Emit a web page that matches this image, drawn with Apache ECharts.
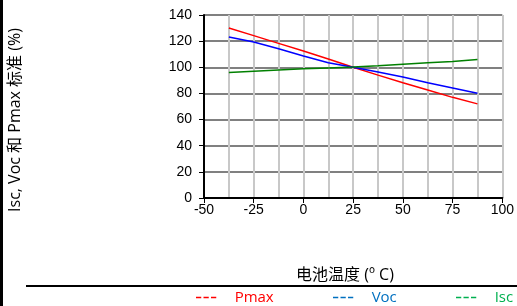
<!DOCTYPE html>
<html><head><meta charset="utf-8">
<script src="https://cdn.jsdelivr.net/npm/echarts@6/dist/echarts.min.js"></script>
<style>html,body{margin:0;padding:0;background:#fff}#c{width:517px;height:306px}</style>
</head><body><div id="c"></div>
<script>
var temps = [-37.5, -25, -12.5, 0, 12.5, 25, 37.5, 50, 62.5, 75, 87.5];
var pmax = [130, 124.2, 118.3, 112.5, 106.4, 100, 94, 88.2, 82.6, 77, 72];
var voc = [123.2, 119.3, 114.2, 108.6, 103.5, 100, 96.4, 92.6, 88.2, 84.2, 80.1];
var isc = [96.1, 97, 97.9, 98.8, 99.5, 100.2, 101.2, 102.3, 103.4, 104.5, 105.9];
var seriesNames = ['Pmax', 'Voc', 'Isc'];
var xTitle = '电池温度 (º C)';
var yTitle = 'Isc, Voc 和 Pmax 标准 (%)';

function pairs(ys){ return temps.map(function(t,i){ return [t, ys[i]]; }); }
var chart = echarts.init(document.getElementById('c'), null, {renderer:'canvas'});
var dashIcon = 'path://M0,0h7v2h-7z M10,0h7v2h-7z M20,0h7v2h-7z';
var lineColors = ['#ff0000', '#0000ff', '#008000'];
var legendColors = ['#ff0000', '#0070c0', '#00b050'];
var legendLeft = [196, 333, 456];
var mixFont = '"Open Sans", "Noto Sans CJK SC", sans-serif';
chart.setOption({
  animation: false,
  grid: {left: 204, top: 15, width: 299, height: 183},
  xAxis: {
    type: 'value', min: -50, max: 100, interval: 25,
    axisLine: {show: true, onZero: false, lineStyle: {color: '#000', width: 2}},
    axisTick: {show: true, length: 5, lineStyle: {color: '#000'}},
    axisLabel: {color: '#000', fontFamily: 'Liberation Sans', fontSize: 14, margin: 5},
    splitLine: {show: true, lineStyle: {color: '#c8c8c8', width: 2}},
    minorTick: {show: false, splitNumber: 2},
    minorSplitLine: {show: true, lineStyle: {color: '#c8c8c8', width: 2}}
  },
  yAxis: {
    type: 'value', min: 0, max: 140, interval: 20,
    axisLine: {show: true, onZero: false, lineStyle: {color: '#000', width: 2}},
    axisTick: {show: true, length: 5, lineStyle: {color: '#000'}},
    axisLabel: {color: '#000', fontFamily: 'Liberation Sans', fontSize: 14, margin: 12},
    splitLine: {show: true, lineStyle: {color: '#808080', width: 2}}
  },
  legend: seriesNames.map(function(n,i){
    return {
      left: legendLeft[i], top: 290, itemWidth: 27, itemHeight: 1.5, padding: 0,
      textStyle: {fontFamily: 'Open Sans', fontSize: 15, color: legendColors[i], padding: [0,0,0,10]},
      data: [{name: n, icon: dashIcon, itemStyle: {color: legendColors[i]}, textStyle: {color: legendColors[i]}}]
    };
  }),
  graphic: [
    {type: 'rect', left: 0, top: 0, shape: {width: 3, height: 306}, style: {fill: '#000'}},
    {type: 'line', shape: {x1: 26, y1: 286, x2: 517, y2: 286}, style: {stroke: '#000', lineWidth: 2}},
    {type: 'text', x: 345, y: 275, style: {text: xTitle, fill: '#000', font: '16px ' + mixFont, textAlign: 'center', textVerticalAlign: 'middle'}},
    {type: 'text', x: 15, y: 120, rotation: Math.PI/2, style: {text: yTitle, fill: '#000', font: '16px ' + mixFont, textAlign: 'center', textVerticalAlign: 'middle'}}
  ],
  series: [
    {name: seriesNames[0], type: 'line', data: pairs(pmax), symbol: 'none', lineStyle: {color: lineColors[0], width: 1.5}, itemStyle: {color: lineColors[0]}},
    {name: seriesNames[1], type: 'line', data: pairs(voc), symbol: 'none', lineStyle: {color: lineColors[1], width: 1.5}, itemStyle: {color: lineColors[1]}},
    {name: seriesNames[2], type: 'line', data: pairs(isc), symbol: 'none', lineStyle: {color: lineColors[2], width: 1.5}, itemStyle: {color: lineColors[2]}}
  ]
});
</script></body></html>
